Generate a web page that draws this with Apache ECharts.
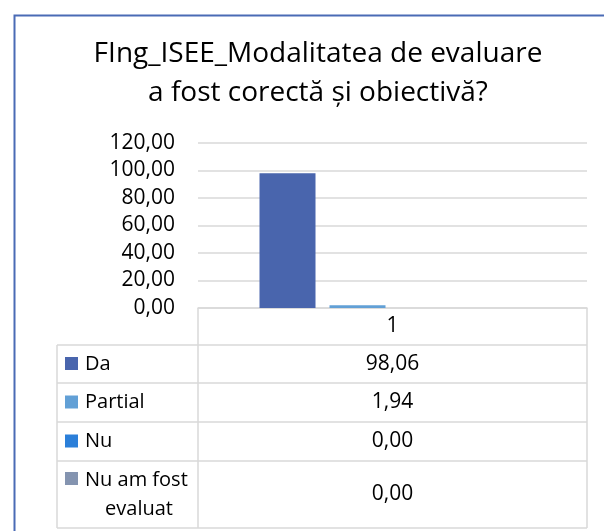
<!DOCTYPE html>
<html style="height: 100%;">
<head>
    <meta charset="UTF-8">
    <script src="https://cdn.jsdelivr.net/npm/echarts@6/dist/echarts.min.js"></script>
</head>
<body style="height: 100%; margin: 0; background: #fff;">
    <div id="chart" style="width: 604px; height: 531px;"></div>

    <script type="text/javascript">
        // data
        var categories = ['1'];
        var seriesNames = ['Da', 'Partial', 'Nu', 'Nu am fost evaluat'];
        var seriesValues = [[98.06], [1.94], [0.00], [0.00]];
        var seriesColors = ['#4965ad', '#62a0d6', '#2b7fd9', '#8494b0'];
        var yTicks = [0, 20, 40, 60, 80, 100, 120];

        var chart = echarts.init(document.getElementById('chart'));

        var font = '"Open Sans", sans-serif';
        var lineColor = '#d9d9d9';

        // layout of the plot + data table
        var plotLeft = 198, plotRight = 587, axisY = 308, plotTop = 143;
        var tableLeft = 57;
        var rowLines = [345, 383, 422, 461, 528];
        var colCenter = (plotLeft + plotRight) / 2;

        function fmt(v) {
            return v.toFixed(2).replace('.', ',');
        }

        var graphics = [];
        // selected-chart frame (cropped by the screenshot)
        graphics.push({
            type: 'rect', left: 12, top: 13, silent: true,
            shape: { width: 700, height: 700 },
            style: { fill: 'none', stroke: '#4a6bb5', lineWidth: 2 }
        });

        function hLine(x1, x2, y) {
            graphics.push({ type: 'line', silent: true,
                shape: { x1: x1, y1: y, x2: x2, y2: y },
                style: { stroke: lineColor, lineWidth: 1.5 } });
        }
        function vLine(x, y1, y2) {
            graphics.push({ type: 'line', silent: true,
                shape: { x1: x, y1: y1, x2: x, y2: y2 },
                style: { stroke: lineColor, lineWidth: 1.5 } });
        }

        vLine(plotLeft, axisY, rowLines[rowLines.length - 1]);
        vLine(plotRight, axisY, rowLines[rowLines.length - 1]);
        vLine(tableLeft, rowLines[0], rowLines[rowLines.length - 1]);
        rowLines.forEach(function (y) { hLine(tableLeft, plotRight, y); });

        // data table rows: legend key + name, value
        seriesNames.forEach(function (name, i) {
            var top = rowLines[i], bottom = rowLines[i + 1];
            var cy = (top + bottom) / 2;
            var multi = bottom - top > 50;
            graphics.push({ type: 'rect', silent: true,
                shape: { x: 65, y: (multi ? top + 11 : cy - 7), width: 13, height: 13 },
                style: { fill: seriesColors[i] } });
            graphics.push({ type: 'text', silent: true,
                x: multi ? 139 : 85, y: cy,
                style: {
                    text: name, font: '20px ' + font, fill: '#000',
                    width: 112, overflow: 'break', lineHeight: 29,
                    align: multi ? 'center' : 'left', verticalAlign: 'middle'
                } });
            graphics.push({ type: 'text', silent: true,
                x: colCenter, y: cy,
                style: {
                    text: fmt(seriesValues[i][0]), font: '21px ' + font, fill: '#000',
                    align: 'center', verticalAlign: 'middle'
                } });
        });

        var option = {
            backgroundColor: '#fff',
            animation: false,
            title: {
                text: 'FIng_ISEE_Modalitatea de evaluare\na fost corectă și obiectivă?',
                left: 313,
                top: 30,
                textAlign: 'center',
                textStyle: {
                    fontFamily: font, fontSize: 28, fontWeight: 'normal',
                    color: '#000', lineHeight: 39
                }
            },
            grid: {
                left: plotLeft, right: 604 - plotRight,
                top: plotTop, bottom: 531 - axisY
            },
            xAxis: {
                type: 'category',
                data: categories,
                axisTick: { show: false },
                axisLine: { lineStyle: { color: lineColor, width: 1.5 } },
                axisLabel: { margin: 8, fontFamily: font, fontSize: 21, color: '#000' }
            },
            yAxis: {
                type: 'value',
                min: yTicks[0], max: yTicks[yTicks.length - 1], interval: 20,
                axisLine: { show: false },
                axisTick: { show: false },
                splitLine: { lineStyle: { color: lineColor, width: 1.5 } },
                axisLabel: {
                    margin: 23, fontFamily: font, fontSize: 21, color: '#000',
                    formatter: function (v) { return fmt(v); }
                }
            },
            series: seriesNames.map(function (name, i) {
                return {
                    name: name,
                    type: 'bar',
                    data: seriesValues[i],
                    barWidth: 56,
                    barGap: '25%',
                    itemStyle: { color: seriesColors[i] }
                };
            }),
            graphic: graphics
        };

        chart.setOption(option);
        window.addEventListener('resize', chart.resize);
    </script>
</body>
</html>
